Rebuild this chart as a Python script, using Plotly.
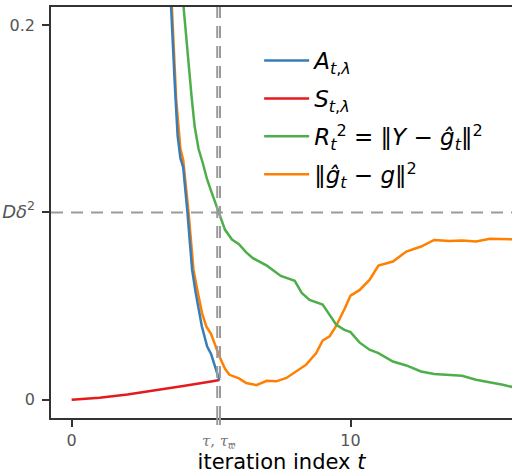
import plotly.graph_objects as go

# ---------------- data ----------------
t_A = [3.0, 3.25, 3.5, 3.6, 3.7, 3.8, 3.9, 4.0, 4.15, 4.32, 4.45, 4.67, 4.86, 5.0, 5.3]
A_vals = [0.42, 0.31, 0.23, 0.197, 0.168, 0.141, 0.129, 0.124, 0.1004, 0.0693, 0.0569,
          0.0391, 0.0284, 0.0244, 0.0103]

t_S = [0, 1, 2, 3, 4, 5, 5.3]
S_vals = [0.0, 0.0011, 0.0028, 0.0049, 0.0073, 0.0097, 0.0105]

t_R = [3.0, 3.5, 4.0, 4.15, 4.3, 4.41, 4.55, 4.71, 4.85, 5.0, 5.27, 5.5, 5.75, 6.0, 6.25,
       6.5, 7.0, 7.25, 7.5, 8.0, 8.25, 8.53, 9.0, 9.25, 9.49, 9.78, 10.0, 10.32, 10.68, 11.0,
       11.52, 12.0, 12.53, 13.0, 13.5, 14.0, 14.5, 15.0, 15.46, 15.8]
R_vals = [0.45, 0.31, 0.212, 0.186, 0.162, 0.146, 0.134, 0.126, 0.118, 0.1115, 0.1002,
          0.0907, 0.0855, 0.0830, 0.0788, 0.0756, 0.0716, 0.0686, 0.0661, 0.0635, 0.057,
          0.0533, 0.0508, 0.0453, 0.040, 0.0373, 0.0361, 0.0306, 0.0267, 0.0249, 0.0204,
          0.0183, 0.0151, 0.0137, 0.0132, 0.0128, 0.0107, 0.0094, 0.008, 0.0068]

t_E = [3.0, 3.25, 3.5, 3.62, 3.75, 3.9, 4.0, 4.19, 4.37, 4.53, 4.68, 4.83, 5.0, 5.3, 5.5,
       5.66, 6.0, 6.26, 6.62, 7.0, 7.34, 7.7, 8.0, 8.41, 8.77, 9.0, 9.25, 9.49, 9.8, 10.0,
       10.32, 10.68, 11.0, 11.52, 12.0, 12.53, 13.0, 13.55, 14.0, 14.5, 15.0, 15.8]
E_vals = [0.43, 0.32, 0.24, 0.20, 0.16, 0.134, 0.128, 0.1004, 0.0693, 0.0569, 0.046, 0.0391,
          0.035, 0.0231, 0.0165, 0.0133, 0.0114, 0.0089, 0.0078, 0.0101, 0.0098, 0.0116,
          0.0148, 0.0187, 0.0249, 0.0316, 0.0338, 0.0395, 0.049, 0.0556, 0.0585, 0.064,
          0.0716, 0.0738, 0.0791, 0.0818, 0.0853, 0.0848, 0.085, 0.0845, 0.0859, 0.0857]

TAU = 5.22
TAU_W = 5.32
D_DELTA2 = 0.1

x_tickvals = [0, 10]
x_ticktext = ["0", "10"]
y_tickvals = [0, D_DELTA2, 0.2]
y_ticktext = ["0", "<span style='font-size:18px'><i>Dδ</i><sup>2</sup></span>", "0.2"]

names = {
    "A": "<i>A</i><sub><i>t</i>,<i>λ</i></sub>",
    "S": "<i>S</i><sub><i>t</i>,<i>λ</i></sub>",
    "R": "<i>R</i><sub><i>t</i></sub><sup>2</sup> = ‖<i>Y</i> − <i>ĝ</i><sub><i>t</i></sub>‖<sup>2</sup>",
    "E": "‖<i>ĝ</i><sub><i>t</i></sub> − <i>g</i>‖<sup>2</sup>",
}
colors = {"A": "#377eb8", "S": "#e41a1c", "R": "#4daf4a", "E": "#ff7f00"}

fig = go.Figure()
LW = 2.5
fig.add_trace(go.Scatter(x=t_E, y=E_vals, mode="lines", name=names["E"], legendrank=4,
                         legendgroup="E", line=dict(color=colors["E"], width=LW)))
fig.add_trace(go.Scatter(x=t_R, y=R_vals, mode="lines", name=names["R"], legendrank=3,
                         legendgroup="R", line=dict(color=colors["R"], width=LW)))
fig.add_trace(go.Scatter(x=t_S, y=S_vals, mode="lines", name=names["S"], legendrank=2,
                         legendgroup="S", line=dict(color=colors["S"], width=LW)))
fig.add_trace(go.Scatter(x=t_A, y=A_vals, mode="lines", name=names["A"], legendrank=1,
                         legendgroup="A", line=dict(color=colors["A"], width=LW)))

GRAY = "rgb(155,155,155)"
DASH = "12px,8px"
shapes = [
    dict(type="line", xref="paper", yref="y", x0=0, x1=1, y0=D_DELTA2, y1=D_DELTA2,
         line=dict(color=GRAY, width=2, dash=DASH)),
]
for xv in (TAU, TAU_W):
    shapes.append(dict(type="line", xref="x", yref="paper", x0=xv, x1=xv, y0=0, y1=1,
                       line=dict(color=GRAY, width=2, dash=DASH)))
    shapes.append(dict(type="line", xref="x", yref="paper", x0=xv, x1=xv, y0=-0.017, y1=0,
                       line=dict(color=GRAY, width=2)))

fig.update_layout(
    width=512, height=474,
    margin=dict(l=51, r=0, t=7, b=56),
    plot_bgcolor="white", paper_bgcolor="white",
    font=dict(family="DejaVu Sans", color="#555555"),
    shapes=shapes,
    showlegend=True,
    legend=dict(x=0.4515, y=0.922, xanchor="left", yanchor="top",
                bgcolor="rgba(0,0,0,0)", font=dict(size=23, color="black"),
                itemwidth=45, tracegroupgap=5),
    annotations=[dict(x=(TAU + TAU_W) / 2, xref="x", y=-0.056, yref="paper",
                      text="<i>τ</i>, <i>τ</i><sub>𝔴</sub>", showarrow=False,
                      yanchor="middle", xanchor="center",
                      font=dict(family="DejaVu Serif", size=15, color="#777777"))],
)
fig.update_xaxes(range=[-0.74, 15.79], showline=True, linecolor="#333333", linewidth=1.5,
                 mirror=True, ticks="outside", ticklen=7, tickcolor="#333333", tickwidth=1.5,
                 tickvals=x_tickvals, ticktext=x_ticktext, tickfont=dict(size=16, color="#555555"),
                 showgrid=False, zeroline=False,
                 title=dict(text="iteration index <i>t</i>", standoff=2,
                            font=dict(size=21, color="black")))
fig.update_yaxes(range=[-0.00977, 0.2097], showline=True, linecolor="#333333", linewidth=1.5,
                 ticks="outside", ticklen=7, tickcolor="#333333", tickwidth=1.5,
                 tickvals=y_tickvals, ticktext=y_ticktext, tickfont=dict(size=16, color="#555555"),
                 showgrid=False, zeroline=False, ticklabelstandoff=4)

fig.write_html("out.html")
